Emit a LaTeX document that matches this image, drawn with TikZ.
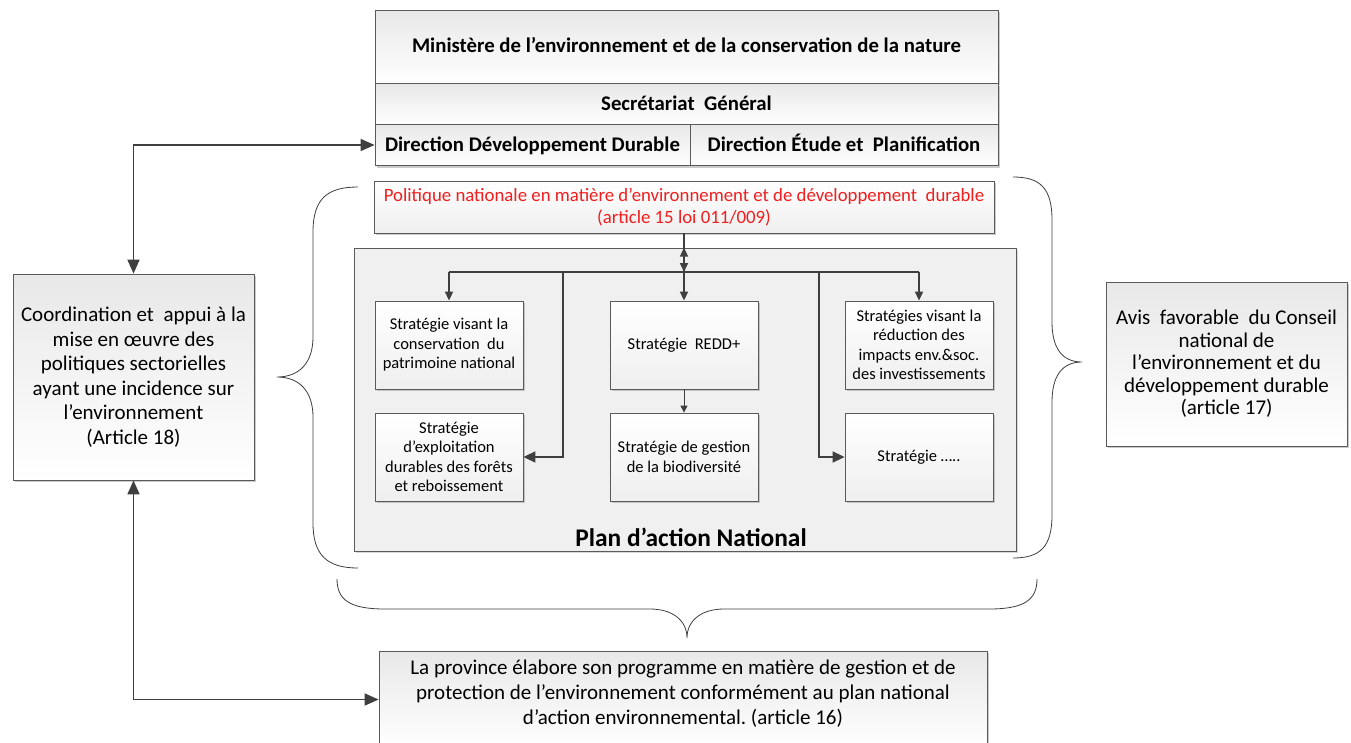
\documentclass[tikz,border=0pt]{standalone}
\usepackage{fontspec}
\setmainfont{Carlito}
\frenchspacing
\usetikzlibrary{arrows.meta,shadows}
\definecolor{bordc}{HTML}{5A5A5A}
\definecolor{linec}{HTML}{3F3F3F}
\definecolor{boxg}{HTML}{E8E8E8}
\definecolor{planf}{HTML}{F0F0F0}
\definecolor{redt}{HTML}{F01E1E}
\begin{document}
\begin{tikzpicture}[x=1pt,y=-1pt,
  box/.style={draw=bordc, line width=0.8pt, top color=boxg, bottom color=white,
    drop shadow={shadow xshift=2pt,shadow yshift=-2pt,fill=black!40,opacity=.5},
    align=center, inner sep=2pt},
  sbox/.style={box, top color=white, bottom color=boxg!70, font=\fontsize{16.5}{19.5}\selectfont,
    minimum width=148pt, minimum height=88pt},
  hbox/.style={box, font=\bfseries\fontsize{20.8}{24}\selectfont, text height=16pt, text depth=4pt},
  conn/.style={draw=linec, line width=1.6pt},
  brace/.style={draw=linec, line width=0.8pt},
  bigtip/.tip={Triangle[length=14pt,width=12pt]},
  medtip/.tip={Triangle[length=12pt,width=11pt]},
  smalltip/.tip={Triangle[length=9pt,width=8pt]},
]
\fill[white] (0,0) rectangle (1351,742);
\useasboundingbox (0,0) rectangle (1351,742);

% top box
\node[hbox, minimum width=623pt, minimum height=73pt] (min) at (686.5,46.5)
  {Ministère de l’environnement et de la conservation de la nature};
\node[hbox, minimum width=623pt, minimum height=41pt] (sg) at (686.5,104)
  {Secrétariat\ \ Général};
\node[hbox, minimum width=315pt, minimum height=41pt] (ddd) at (532.5,145)
  {Direction Développement Durable};
\node[hbox, minimum width=308pt, minimum height=41pt] (dep) at (844,145)
  {Direction Étude et\ \ Planification};

% red box
\node[box, top color=white, bottom color=boxg!70, minimum width=620pt, minimum height=52pt,
  text=redt, font=\fontsize{18.8}{22}\selectfont] (pol) at (684,207)
  {Politique nationale en matière d’environnement et de développement\ \ durable\\(article 15 loi 011/009)};

% plan box
\node[draw=bordc, line width=0.8pt, fill=planf, minimum width=662pt, minimum height=303pt,
  drop shadow={shadow xshift=2pt,shadow yshift=-2pt,fill=black!30,opacity=.5}] (plan) at (685,399.5) {};
\node[font=\bfseries\fontsize{25.4}{28}\selectfont] (plant) at (691,537) {Plan d’action National};

% strategies
\node[sbox] (s1) at (449,345) {Stratégie visant la\\conservation\ \ du\\patrimoine national};
\node[sbox] (s2) at (449,457) {Stratégie\\d’exploitation\\durables des forêts\\et reboissement};
\node[sbox] (s3) at (684,345) {Stratégie\ \ REDD+};
\node[sbox] (s4) at (684,457) {Stratégie de gestion\\de la biodiversité};
\node[sbox] (s5) at (919,345) {Stratégies visant la\\réduction des\\impacts env.\&soc.\\des investissements};
\node[sbox] (s6) at (919,457) {Stratégie …..};

% side boxes
\node[box, minimum width=241pt, minimum height=206pt, font=\fontsize{21}{24.5}\selectfont] (L) at (133.5,377)
  {Coordination et\ \ appui à la\\mise en œuvre des\\politiques sectorielles\\ayant une incidence sur\\l’environnement\\(Article 18)};
\node[box, minimum width=241pt, minimum height=164pt, font=\fontsize{21}{22.5}\selectfont] (R) at (1226.5,364)
  {Avis\ \ favorable\ \ du Conseil\\national de\\l’environnement et du\\développement durable\\(article 17)};
\node[box, minimum width=608pt, minimum height=97pt] (B) at (683,699.5) {};
\node[align=center, font=\fontsize{21}{25}\selectfont] (Bt) at (683,694)
  {La province élabore son programme en matière de gestion et de\\protection de l’environnement conformément au plan national\\d’action environnemental. (article 16)};

% connectors
\coordinate (busL) at (449,272);
\coordinate (busC) at (684,272);
\coordinate (busR) at (919,272);
\coordinate (brL) at (563,272);
\coordinate (brR) at (819,272);
\draw[conn] (busL) -- (busR);
\draw[conn,-{smalltip}] (busL) -- (s1.north);
\draw[conn,-{smalltip}] (busC) -- (s3.north);
\draw[conn,-{smalltip}] (busR) -- (s5.north);
\draw[conn,-{medtip}] (brL) |- (s2.east);
\draw[conn,-{medtip}] (brR) |- (s6.west);
\draw[conn,-{smalltip}] (pol.south) -- (busC);
\draw[conn,-{smalltip}] (busC) -- (plan.north -| busC);
\draw[conn,line width=1pt,-{Triangle[length=7pt,width=7pt]}] (s3.south) -- (s4.north);

\draw[conn,{bigtip}-{bigtip}] (L.north) |- (ddd.west);
\draw[conn,{bigtip}-{bigtip}] (L.south) |- (B.west);

% braces
\draw[brace] (358,187) .. controls (328,187) and (313,198) .. (313,232)
  -- (313,337) .. controls (313,362) and (300,377) .. (277,377)
  .. controls (300,377) and (313,392) .. (313,417)
  -- (313,523) .. controls (313,556) and (328,568) .. (358,568);
\draw[brace] (1013,177) .. controls (1040,177) and (1052,188) .. (1052,220)
  -- (1052,322) .. controls (1052,348) and (1062,362) .. (1082,362)
  .. controls (1062,362) and (1052,376) .. (1052,402)
  -- (1052,515) .. controls (1052,547) and (1040,558) .. (1013,558);
\draw[brace] (337,579) .. controls (337,600) and (350,609) .. (385,609)
  -- (650,609) .. controls (672,609) and (687,620) .. (687,638)
  .. controls (687,620) and (702,609) .. (724,609)
  -- (989,609) .. controls (1024,609) and (1037,600) .. (1037,579);
\end{tikzpicture}
\end{document}
